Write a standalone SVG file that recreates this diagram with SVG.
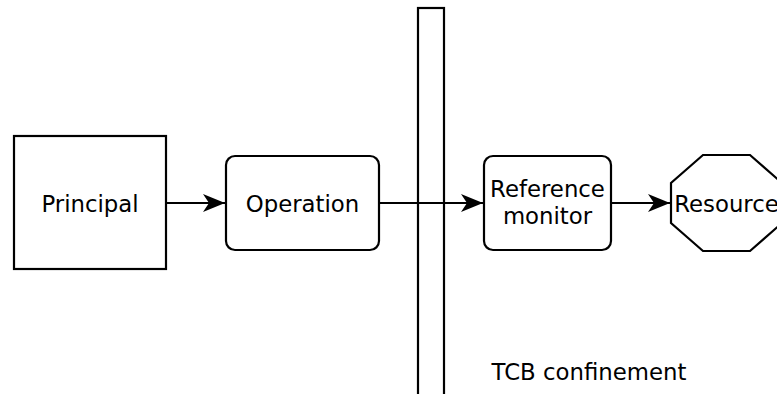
<svg xmlns="http://www.w3.org/2000/svg" width="777" height="394" viewBox="0 0 777 394">
  <style>
    .shape { fill: #ffffff; stroke: #000000; stroke-width: 2.2; }
    .label { font-family: "DejaVu Sans", Verdana, sans-serif; font-size: 22.8px; fill: #000000; text-anchor: middle; }
    .edge { fill: none; stroke: #000000; stroke-width: 2.2; }
  </style>
  <defs>
    <marker id="arrow" viewBox="0 0 22 18" refX="22" refY="9" markerWidth="22" markerHeight="18" markerUnits="userSpaceOnUse" orient="auto">
      <path d="M22,9 L0,0 L6,9 L0,18 Z" fill="#000000"/>
    </marker>
  </defs>
  <rect width="777" height="394" fill="#ffffff"/>

  <!-- TCB boundary wall -->
  <g id="tcb-wall">
    <rect class="shape" x="418" y="8" width="26" height="400"/>
  </g>

  <g id="principal">
    <rect class="shape" x="14" y="136" width="152" height="133"/>
    <text class="label" x="90" y="212">Principal</text>
  </g>

  <g id="operation">
    <rect class="shape" x="226" y="156" width="153" height="94" rx="9" ry="9"/>
    <text class="label" x="302.5" y="212">Operation</text>
  </g>

  <g id="reference-monitor">
    <rect class="shape" x="484" y="156" width="127" height="94" rx="9" ry="9"/>
    <text class="label" x="547.5" y="197">Reference</text>
    <text class="label" x="547.5" y="224">monitor</text>
  </g>

  <g id="resource">
    <polygon class="shape" points="703,155 750,155 782,183 782,223 750,251 703,251 671,223 671,183"/>
    <text class="label" x="726.5" y="212">Resource</text>
  </g>

  <g id="tcb-label">
    <text class="label" x="589" y="380">TCB confinement</text>
  </g>

  <g id="connectors">
    <line class="edge" x1="166" y1="203" x2="225" y2="203" marker-end="url(#arrow)"/>
    <line class="edge" x1="379" y1="203" x2="483" y2="203" marker-end="url(#arrow)"/>
    <line class="edge" x1="611" y1="203" x2="670" y2="203" marker-end="url(#arrow)"/>
  </g>
</svg>
